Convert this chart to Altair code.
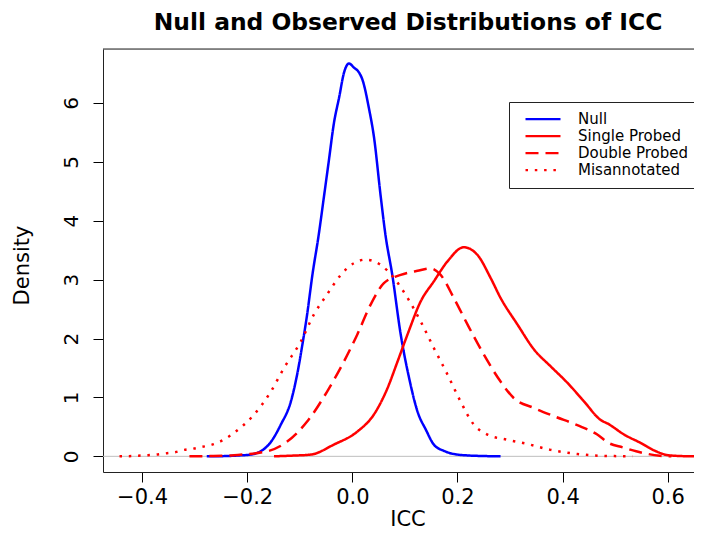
import altair as alt
import pandas as pd

# ---- data ----
series_names = ["Null", "Single Probed", "Double Probed", "Misannotated"]
series_colors = ["#0000FF", "#FF0000", "#FF0000", "#FF0000"]

null_x = [-0.277, -0.24, -0.215, -0.193, -0.159, -0.136, -0.117, -0.105, -0.095, -0.086,
          -0.076, -0.064, -0.054, -0.045, -0.035, -0.025, -0.016, -0.0065, 0.003, 0.0125,
          0.019, 0.032, 0.041, 0.054, 0.063, 0.076, 0.092, 0.108, 0.124, 0.14,
          0.155, 0.175, 0.193, 0.22, 0.25, 0.282]
null_y = [0, 0.005, 0.015, 0.03, 0.2, 0.54, 0.93, 1.39, 1.90, 2.41,
          3.08, 3.76, 4.41, 5.0, 5.66, 6.1, 6.51, 6.67, 6.6, 6.52,
          6.40, 5.89, 5.43, 4.41, 3.76, 3.08, 2.07, 1.33, 0.76, 0.45,
          0.2, 0.09, 0.04, 0.015, 0.005, 0]

single_x = [-0.149, -0.12, -0.079, -0.035, 0.0095, 0.041, 0.067, 0.086, 0.105, 0.130,
            0.155, 0.181, 0.212, 0.238, 0.263, 0.282, 0.314, 0.346, 0.377, 0.409,
            0.441, 0.472, 0.487, 0.517, 0.548, 0.578, 0.60, 0.625, 0.65]
single_y = [0, 0.01, 0.03, 0.2, 0.42, 0.71, 1.16, 1.61, 2.07, 2.63,
            2.97, 3.31, 3.55, 3.42, 3.03, 2.69, 2.24, 1.81, 1.53, 1.25,
            0.93, 0.62, 0.55, 0.37, 0.23, 0.085, 0.02, 0.005, 0]

double_x = [-0.31, -0.27, -0.225, -0.162, -0.124, -0.086, -0.048, -0.016, 0.0095, 0.035,
            0.060, 0.092, 0.124, 0.149, 0.168, 0.193, 0.219, 0.250, 0.282, 0.307,
            0.346, 0.384, 0.428, 0.466, 0.487, 0.515, 0.54, 0.585, 0.607]
double_y = [0, 0.005, 0.02, 0.085, 0.25, 0.59, 1.10, 1.61, 2.07, 2.58,
            2.94, 3.08, 3.15, 3.19, 3.08, 2.69, 2.24, 1.73, 1.27, 0.99,
            0.82, 0.68, 0.53, 0.37, 0.23, 0.15, 0.085, 0.01, 0]

mis_x = [-0.443, -0.425, -0.407, -0.389, -0.372, -0.355, -0.337, -0.320, -0.303, -0.286,
         -0.270, -0.254, -0.225, -0.187, -0.155, -0.130, -0.098, -0.073, -0.048, -0.022,
         0.003, 0.025, 0.054, 0.079, 0.105, 0.130, 0.155, 0.181, 0.206, 0.231,
         0.257, 0.295, 0.333, 0.377, 0.428, 0.472, 0.533]
mis_y = [0, 0.003, 0.01, 0.02, 0.03, 0.05, 0.07, 0.11, 0.13, 0.16,
         0.19, 0.24, 0.40, 0.71, 1.10, 1.50, 1.95, 2.41, 2.75, 3.08,
         3.28, 3.34, 3.25, 3.03, 2.69, 2.29, 1.84, 1.39, 0.93, 0.54,
         0.37, 0.28, 0.21, 0.11, 0.04, 0.01, 0]

x_ticks = [-0.4, -0.2, 0.0, 0.2, 0.4, 0.6]
y_ticks = [0, 1, 2, 3, 4, 5, 6]

# ---- build long table ----
frames = []
for name, xs, ys in zip(series_names,
                        [null_x, single_x, double_x, mis_x],
                        [null_y, single_y, double_y, mis_y]):
    frames.append(pd.DataFrame({"ICC": xs, "Density": ys, "series": name, "order": range(len(xs))}))
df = pd.concat(frames, ignore_index=True)

FONT = "DejaVu Sans"
W, H = 591, 423
x_dom = [-0.4744, -0.4744 + W / 525.6]
y_dom = [-0.266, 6.916]

x_scale = alt.Scale(domain=x_dom, nice=False, zero=False)
y_scale = alt.Scale(domain=y_dom, nice=False, zero=False)

one = pd.DataFrame({"v": [0]})

zero_line = alt.Chart(one).mark_rule(color="#bebebe", strokeWidth=1).encode(
    y=alt.Y("v:Q", scale=y_scale)
)

top_frame = alt.Chart(one).mark_rule(color="#222222", strokeWidth=1).encode(
    y=alt.value(0)
)

lines = alt.Chart(df).mark_line(strokeWidth=2.5, clip=True, interpolate="monotone").encode(
    x=alt.X("ICC:Q", scale=x_scale,
            axis=alt.Axis(values=x_ticks, format=".1f", grid=False,
                          labelFont=FONT, labelFontSize=21, labelColor="black",
                          labelBaseline="alphabetic", labelPadding=21,
                          tickSize=10, tickColor="black", tickWidth=1,
                          domainColor="#222222", domainWidth=1,
                          title="ICC", titleFont=FONT, titleFontSize=21,
                          titleFontWeight="normal", titleColor="black",
                          titleX=304.5, titleY=53, titleBaseline="alphabetic",
                          titleAlign="center")),
    y=alt.Y("Density:Q", scale=y_scale,
            axis=alt.Axis(values=y_ticks, format="d", grid=False,
                          labelFont=FONT, labelFontSize=20, labelColor="black",
                          labelAngle=270, labelAlign="center",
                          labelBaseline="alphabetic", labelPadding=16,
                          tickSize=10, tickColor="black", tickWidth=1,
                          domainColor="#222222", domainWidth=1,
                          title="Density", titleFont=FONT, titleFontSize=21,
                          titleFontWeight="normal", titleColor="black",
                          titleAngle=270, titleX=-75, titleY=216,
                          titleBaseline="alphabetic", titleAlign="center")),
    color=alt.Color("series:N",
                    scale=alt.Scale(domain=series_names, range=series_colors),
                    legend=alt.Legend(orient="none", legendX=406, legendY=53,
                                      title=None, symbolType="stroke",
                                      symbolSize=1225, symbolStrokeWidth=2.2,
                                      symbolOffset=6, labelOffset=16,
                                      labelFont=FONT, labelFontSize=15,
                                      labelColor="black", padding=9,
                                      clipHeight=16.2, rowPadding=0,
                                      labelExpr="datum.label + '      '",
                                      strokeColor="#222222", fillColor="white",
                                      labelLimit=300)),
    strokeDash=alt.StrokeDash("series:N",
                              scale=alt.Scale(domain=series_names,
                                              range=[[1, 0], [1, 0], [13, 7], [2.5, 6.8]]),
                              legend=None),
    detail="series:N",
    order="order:Q",
)

chart = alt.layer(zero_line, lines, top_frame).properties(
    width=W, height=H,
    title=alt.TitleParams("Null and Observed Distributions of ICC",
                          font=FONT, fontSize=23.4, fontWeight="bold", color="black",
                          anchor="middle", dx=9.5, dy=22, offset=17, baseline="alphabetic"),
    autosize=alt.AutoSizeParams(type="none"),
    padding={"left": 95, "top": 41, "right": 0, "bottom": 59},
).configure_view(stroke=None).configure(background="white")

chart.save("out.html", embed_options={"renderer": "svg", "actions": False})
